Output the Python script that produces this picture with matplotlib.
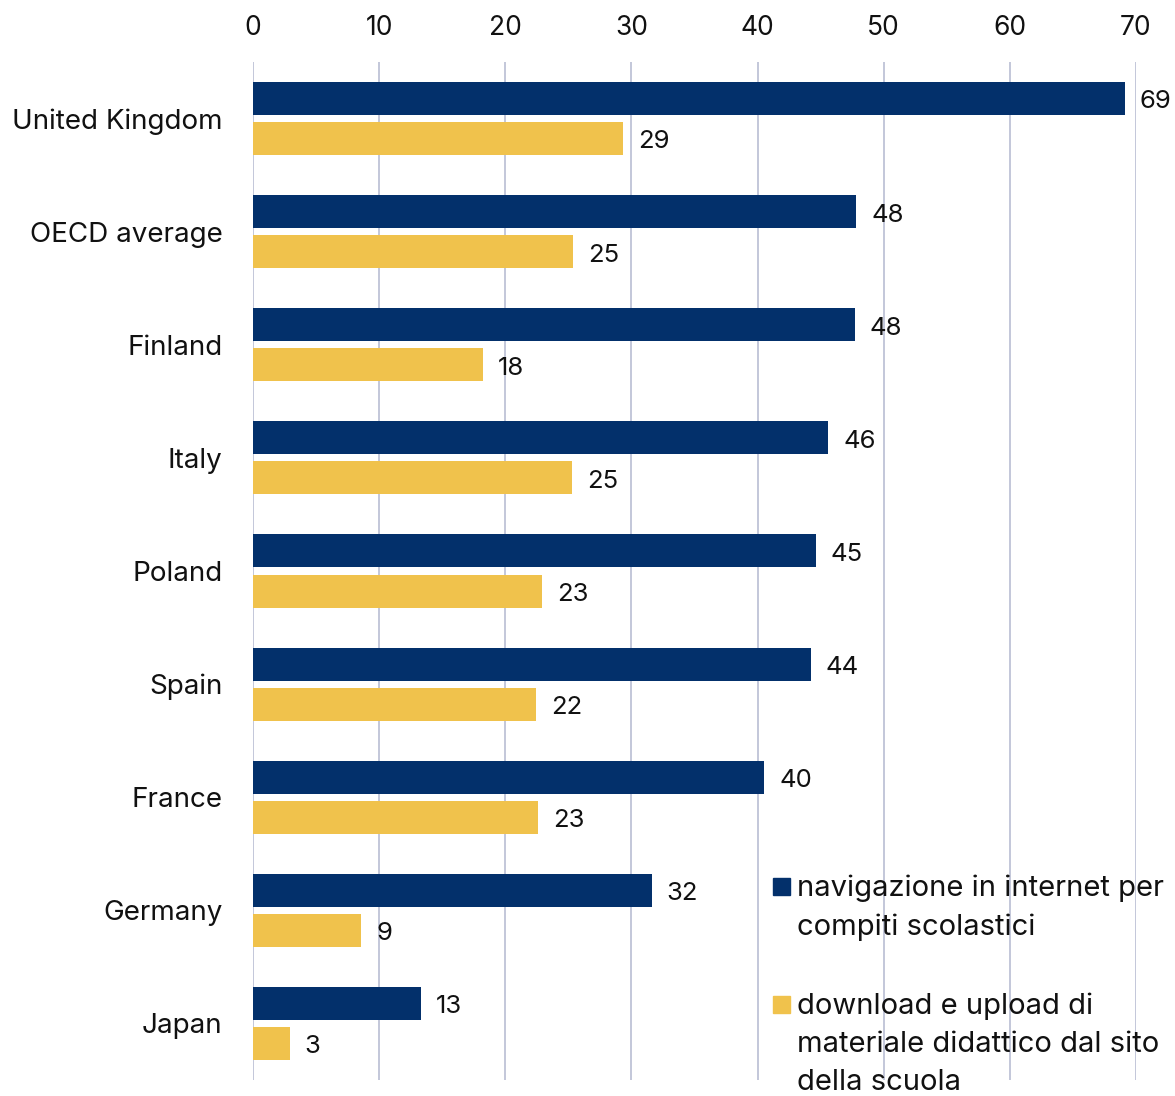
import numpy as np
import matplotlib.pyplot as plt
from matplotlib.patches import Rectangle

plt.rcParams['font.family'] = ['Inter', 'DejaVu Sans']

countries = ['United Kingdom', 'OECD average', 'Finland', 'Italy', 'Poland',
             'Spain', 'France', 'Germany', 'Japan']
navigazione = [69.1, 47.8, 47.7, 45.6, 44.6, 44.2, 40.5, 31.6, 13.3]
download = [29.3, 25.4, 18.2, 25.3, 22.9, 22.4, 22.6, 8.6, 2.9]
series_names = ['navigazione in internet per\ncompiti scolastici',
                'download e upload di\nmateriale didattico dal sito\ndella scuola']

navy = '#03306b'
gold = '#f0c24c'
grid_col = '#b9bdd3'
txt = '#111111'

fig = plt.figure(figsize=(11.75, 10.96), dpi=100)
ax = fig.add_axes([253 / 1175, 1 - 1080 / 1096, 883 / 1175, 1018 / 1096])

y = np.arange(len(countries))
h = 0.292
off = 0.177
ax.barh(y - off, navigazione, height=h, color=navy, zorder=3)
ax.barh(y + off, download, height=h, color=gold, zorder=3)

for yi, v in zip(y, navigazione):
    ax.text(v + 1.2, yi - off + 0.03, f'{v:.0f}', va='center', ha='left',
            fontsize=18.5, color=txt)
for yi, v in zip(y, download):
    ax.text(v + 1.2, yi + off + 0.03, f'{v:.0f}', va='center', ha='left',
            fontsize=18.5, color=txt)

ax.set_xlim(0, 70)
ax.set_ylim(len(countries) - 0.5, -0.5)
ax.set_xticks(np.arange(0, 71, 10))
ax.xaxis.tick_top()
ax.tick_params(axis='x', length=0, pad=15, labelsize=19, labelcolor=txt)
ax.set_yticks(y)
ax.set_yticklabels(countries)
ax.tick_params(axis='y', length=0, pad=22, labelsize=20, labelcolor=txt)
ax.grid(axis='x', color=grid_col, linewidth=1.2, zorder=0)
for s in ax.spines.values():
    s.set_visible(False)

# legend drawn by hand: swatch beside first line of each label
leg_items = [(navy, series_names[0], 1 - 886 / 1096),
             (gold, series_names[1], 1 - 1004 / 1096)]
for col, label, yy in leg_items:
    fig.patches.append(Rectangle((773 / 1175, yy - 8.5 / 1096), 17 / 1175, 17 / 1096,
                                 transform=fig.transFigure, color=col))
    fig.text(797 / 1175, yy + 11 / 1096, label, ha='left', va='top',
             fontsize=21, color=txt, linespacing=1.5)

plt.savefig('out.png', dpi=100, facecolor='white')
